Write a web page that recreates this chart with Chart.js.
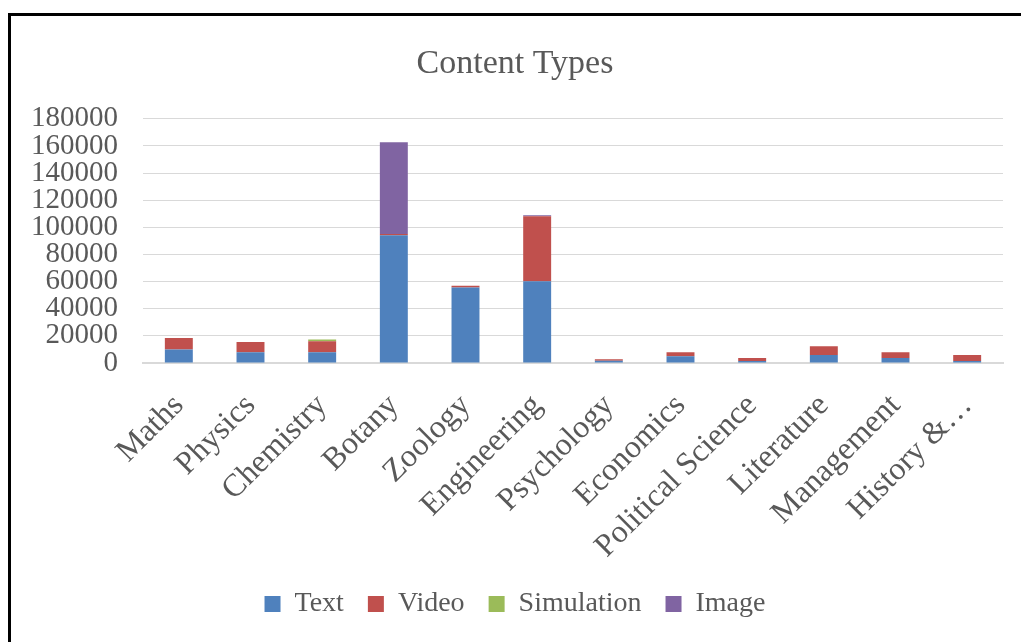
<!DOCTYPE html>
<html>
<head>
<meta charset="utf-8">
<script src="https://cdn.jsdelivr.net/npm/chart.js@4.4.1/dist/chart.umd.min.js"></script>
<style>
  html, body { margin: 0; padding: 0; background: #fff; overflow: hidden; }
  #wrap { position: relative; width: 1021px; height: 642px; }
  #frame {
    position: absolute; left: 8px; top: 13px; width: 1100px; height: 700px;
    border-left: 3px solid #000; border-top: 3px solid #000; pointer-events: none;
  }
  canvas { position: absolute; left: 0; top: 0; }
</style>
</head>
<body>
<div id="wrap">
  <canvas id="chart" width="1021" height="642"></canvas>
  <div id="frame"></div>
</div>
<script>
const subjects = ['Maths', 'Physics', 'Chemistry', 'Botany', 'Zoology', 'Engineering',
  'Psychology', 'Economics', 'Political Science', 'Literature', 'Management', 'History &…'];
const textValues = [10000, 8000, 8000, 94200, 55700, 60200, 1700, 5000, 1500, 5900, 3700, 1500];
const videoValues = [8400, 7400, 8100, 800, 1300, 48000, 1000, 3000, 2200, 6500, 4300, 4400];
const simulationValues = [0, 0, 1200, 0, 0, 0, 0, 0, 0, 0, 0, 0];
const imageValues = [0, 0, 0, 67800, 0, 700, 0, 0, 0, 0, 0, 0];
const yTicks = [0, 20000, 40000, 60000, 80000, 100000, 120000, 140000, 160000, 180000];

const serif = '"Liberation Serif", "Times New Roman", serif';
const grey = '#595959';

function series(label, data, color) {
    return {
        label,
        data,
        backgroundColor: color,
        borderWidth: 0,
        barPercentage: 0.78,
        categoryPercentage: 0.5
    };
}

new Chart(document.getElementById('chart').getContext('2d'), {
    type: 'bar',
    data: {
        labels: subjects,
        datasets: [
            series('Text', textValues, '#4f81bd'),
            series('Video', videoValues, '#c0504d'),
            series('Simulation', simulationValues, '#9bbb59'),
            series('Image', imageValues, '#8064a2')
        ]
    },
    options: {
        responsive: false,
        animation: false,
        layout: { padding: { top: 22, left: 27, right: 18, bottom: 14 } },
        plugins: {
            title: {
                display: true,
                text: 'Content Types',
                color: grey,
                font: { family: serif, size: 34, weight: 'normal' },
                padding: { top: 22, bottom: 34 }
            },
            legend: {
                position: 'bottom',
                labels: {
                    color: grey,
                    font: { family: serif, size: 28 },
                    boxWidth: 16,
                    boxHeight: 16,
                    padding: 24
                }
            },
            tooltip: { enabled: false }
        },
        scales: {
            x: {
                stacked: true,
                grid: { display: false },
                border: { display: true, color: '#d9d9d9', width: 2 },
                ticks: {
                    color: grey,
                    font: { family: serif, size: 32 },
                    minRotation: 45,
                    maxRotation: 45,
                    autoSkip: false,
                    padding: 16
                },
                afterFit(scale) { scale.height = 203; scale.paddingLeft = 0; }
            },
            y: {
                stacked: true,
                min: 0,
                max: 180000,
                afterBuildTicks(scale) { scale.ticks = yTicks.map(v => ({ value: v })); },
                afterFit(scale) { scale.width = 116; },
                grid: { color: '#d9d9d9', drawTicks: false },
                border: { display: false },
                ticks: {
                    color: grey,
                    font: { family: serif, size: 29, lineHeight: 0.9 },
                    autoSkip: false,
                    padding: 25,
                    callback: v => String(v)
                }
            }
        }
    }
});
</script>
</body>
</html>
